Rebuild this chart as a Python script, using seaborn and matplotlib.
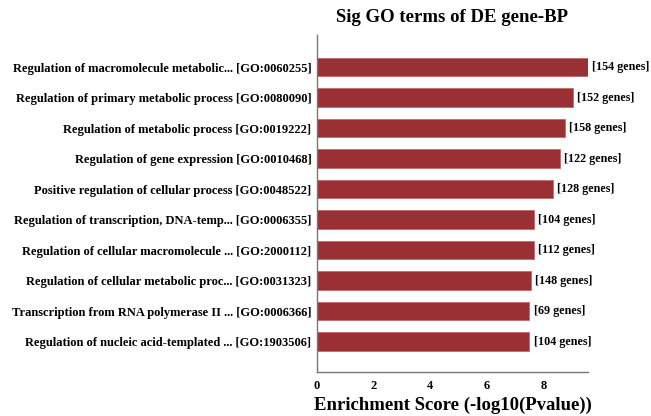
import numpy as np
import pandas as pd
import matplotlib
matplotlib.use("Agg")
import matplotlib.pyplot as plt
import seaborn as sns

# GO terms (top to bottom) and their enrichment scores
terms = [
    "Regulation of macromolecule metabolic... [GO:0060255]",
    "Regulation of primary metabolic process [GO:0080090]",
    "Regulation of metabolic process [GO:0019222]",
    "Regulation of gene expression [GO:0010468]",
    "Positive regulation of cellular process [GO:0048522]",
    "Regulation of transcription, DNA-temp... [GO:0006355]",
    "Regulation of cellular macromolecule ... [GO:2000112]",
    "Regulation of cellular metabolic proc... [GO:0031323]",
    "Transcription from RNA polymerase II ... [GO:0006366]",
    "Regulation of nucleic acid-templated ... [GO:1903506]",
]
scores = [9.57, 9.04, 8.76, 8.58, 8.33, 7.66, 7.65, 7.55, 7.50, 7.50]
gene_counts = [154, 152, 158, 122, 128, 104, 112, 148, 69, 104]

df = pd.DataFrame({"term": terms, "score": scores, "genes": gene_counts})

sns.set_style("white")
plt.rcParams['font.family'] = ['Liberation Serif', 'DejaVu Serif']
plt.rcParams['font.weight'] = 'bold'
plt.rcParams['text.color'] = 'black'
plt.rcParams['xtick.color'] = 'black'
plt.rcParams['ytick.color'] = 'black'
plt.rcParams['axes.labelcolor'] = 'black'

fig = plt.figure(figsize=(6.51, 4.16), dpi=100)
ax = fig.add_axes([317 / 651, 44 / 416, 271 / 651, 337 / 416])

sns.barplot(data=df, x="score", y="term", orient="h", color="#9B3034",
            width=0.6, saturation=1, edgecolor="#C06A6C", linewidth=0.6, ax=ax)

for i, (s, g) in enumerate(zip(scores, gene_counts)):
    ax.text(s + 0.15, i, f"[{g} genes]", va="center", ha="left",
            fontsize=8.7, fontweight="bold", color="black")

ax.set_xlim(0, max(scores))
ax.set_ylim(len(terms), -1.05)
ax.set_xticks([0, 2, 4, 6, 8])
ax.tick_params(axis="x", direction="in", length=4, color="#555555",
               labelsize=9, pad=6)
ax.tick_params(axis="y", length=0, labelsize=9, pad=4)
for lab in ax.get_xticklabels() + ax.get_yticklabels():
    lab.set_fontweight("bold")

for side in ["top", "right"]:
    ax.spines[side].set_visible(False)
for side in ["left", "bottom"]:
    ax.spines[side].set_color("#777777")
    ax.spines[side].set_linewidth(1.0)

ax.set_ylabel("")
ax.set_xlabel("Enrichment Score (-log10(Pvalue))", fontsize=13.5,
              fontweight="bold", labelpad=3)
ax.set_title("Sig GO terms of DE gene-BP", fontsize=13.5, fontweight="bold",
             pad=9)

fig.savefig("out.png", dpi=100)
